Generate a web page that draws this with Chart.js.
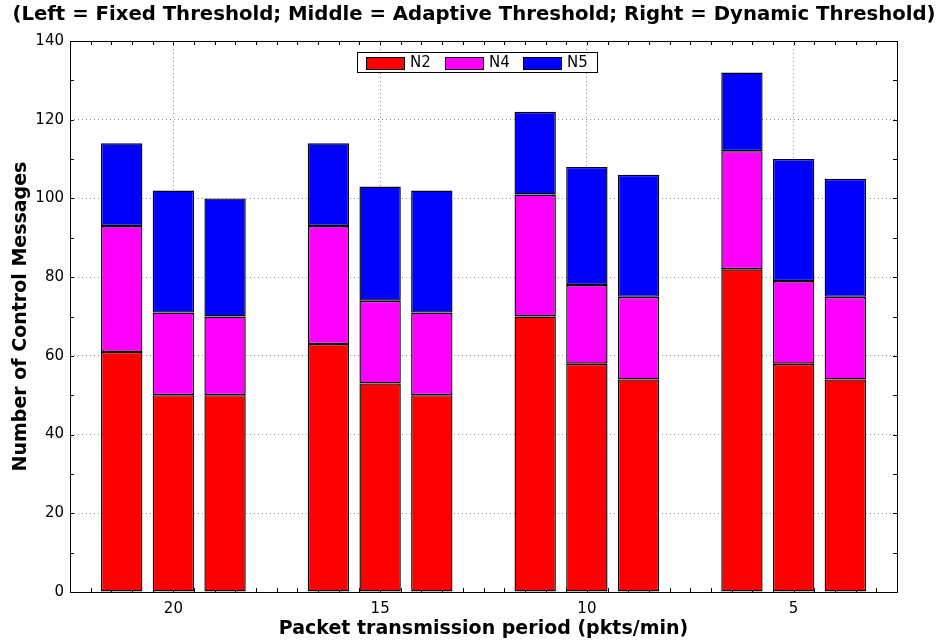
<!DOCTYPE html>
<html><head><meta charset="utf-8">
<script src="https://cdn.jsdelivr.net/npm/chart.js@4/dist/chart.umd.min.js"></script>
<style>html,body{margin:0;padding:0;background:#fff}canvas{display:block}</style>
</head><body>
<canvas id="c" width="941" height="642"></canvas>
<script>
// ---- data ----
const categories = ['20', '15', '10', '5'];
const seriesNames = ['N2', 'N4', 'N5'];
const fixedN2 = [61, 63, 70, 82];
const fixedN4 = [32, 30, 31, 30];
const fixedN5 = [21, 21, 21, 20];
const adaptiveN2 = [50, 53, 58, 58];
const adaptiveN4 = [21, 21, 20, 21];
const adaptiveN5 = [31, 29, 30, 31];
const dynamicN2 = [50, 50, 54, 54];
const dynamicN4 = [20, 21, 21, 21];
const dynamicN5 = [30, 31, 31, 30];
const yTicks = [0, 20, 40, 60, 80, 100, 120, 140];
const titleText = '(Left = Fixed Threshold; Middle = Adaptive Threshold; Right = Dynamic Threshold)';
const xTitle = 'Packet transmission period (pkts/min)';
const yTitle = 'Number of Control Messages';

// ---- styles ----
const colors = ['#ff0000', '#ff00ff', '#0000ff'];
const FONT = '"DejaVu Sans", sans-serif';

const groups = [
  ['fixed', [fixedN2, fixedN4, fixedN5]],
  ['adaptive', [adaptiveN2, adaptiveN4, adaptiveN5]],
  ['dynamic', [dynamicN2, dynamicN4, dynamicN5]]
];
const datasets = [];
groups.forEach(([stack, arrs]) => {
  arrs.forEach((arr, i) => {
    datasets.push({
      label: seriesNames[i],
      data: arr,
      stack: stack,
      backgroundColor: colors[i],
      borderColor: '#000',
      borderWidth: 1.4,
      borderSkipped: false,
      categoryPercentage: 0.75,
      barPercentage: 0.8
    });
  });
});

const framePlugin = {
  id: 'frame',
  beforeDatasetsDraw(chart) {
    const {ctx, chartArea: a, scales: {x, y}} = chart;
    ctx.save();
    ctx.strokeStyle = '#000';
    ctx.lineWidth = 1;
    const L = 4;
    ctx.beginPath();
    // x ticks (major + minor every 0.1 of a category)
    for (let k = -4; k <= 34; k++) {
      const px = Math.round(x.getPixelForValue(k / 10)) + 0.5;
      ctx.moveTo(px, a.bottom); ctx.lineTo(px, a.bottom - L);
      ctx.moveTo(px, a.top); ctx.lineTo(px, a.top + L);
    }
    for (let v = 10; v < 140; v += 10) {
      const py = Math.round(y.getPixelForValue(v)) + 0.5;
      ctx.moveTo(a.left, py); ctx.lineTo(a.left + L, py);
      ctx.moveTo(a.right, py); ctx.lineTo(a.right - L, py);
    }
    ctx.stroke();
    ctx.strokeRect(Math.round(a.left) + 0.5, Math.round(a.top) + 0.5,
      Math.round(a.right - a.left), Math.round(a.bottom - a.top));
    ctx.restore();
  },
  afterDraw(chart) {
    const {ctx, chartArea: a} = chart;
    ctx.save();
    // title
    ctx.fillStyle = '#000';
    ctx.font = 'bold 19.7px ' + FONT;
    ctx.textAlign = 'center';
    ctx.textBaseline = 'alphabetic';
    ctx.fillText(titleText, 474, 20);
    // legend
    const bx = Math.round(a.left) + 287, by = Math.round(a.top) + 11;
    const bw = 240, bh = 20;
    ctx.fillStyle = '#fff';
    ctx.fillRect(bx, by, bw, bh);
    ctx.strokeStyle = '#000';
    ctx.lineWidth = 1;
    ctx.strokeRect(bx + 0.5, by + 0.5, bw, bh);
    ctx.font = '15px ' + FONT;
    ctx.textAlign = 'left';
    ctx.textBaseline = 'middle';
    seriesNames.forEach((n, i) => {
      const sx = bx + 9 + Math.round(i * 78.6);
      ctx.fillStyle = colors[i];
      ctx.fillRect(sx, by + 5, 38, 12);
      ctx.strokeRect(sx + 0.5, by + 5.5, 38, 12);
      ctx.fillStyle = '#000';
      ctx.fillText(n, sx + 44, by + 11);
    });
    ctx.restore();
  }
};

new Chart(document.getElementById('c'), {
  type: 'bar',
  data: {labels: categories, datasets},
  options: {
    responsive: false,
    animation: false,
    devicePixelRatio: 1,
    layout: {padding: {left: 0, right: 44, top: 41, bottom: 0}},
    plugins: {legend: {display: false}, title: {display: false}, tooltip: {enabled: false}},
    scales: {
      x: {
        offset: true,
        grid: {offset: false, drawTicks: false, color: '#8c8c8c', lineWidth: 1},
        border: {display: false, dash: [1, 3]},
        ticks: {color: '#000', font: {family: FONT, size: 15}, padding: 8, maxRotation: 0},
        title: {display: true, text: xTitle, color: '#000', font: {family: FONT, size: 19, weight: 'bold'}, padding: {top: 0, bottom: 2}},
        afterFit(s) { s.height = 50; }
      },
      y: {
        stacked: true,
        min: 0, max: 140,
        afterBuildTicks(s) { s.ticks = yTicks.map(v => ({value: v})); },
        grid: {drawTicks: false, lineWidth: 1,
          color: c => (c.tick && (c.tick.value === 0 || c.tick.value === 140)) ? 'rgba(0,0,0,0)' : '#8c8c8c'},
        border: {display: false, dash: [1, 3]},
        ticks: {color: '#000', font: {family: FONT, size: 15}, padding: 6},
        title: {display: true, text: yTitle, color: '#000', font: {family: FONT, size: 19, weight: 'bold'}, padding: {top: 10, bottom: 0}},
        afterFit(s) { s.width = 70; }
      }
    }
  },
  plugins: [framePlugin]
});
</script>
</body></html>
